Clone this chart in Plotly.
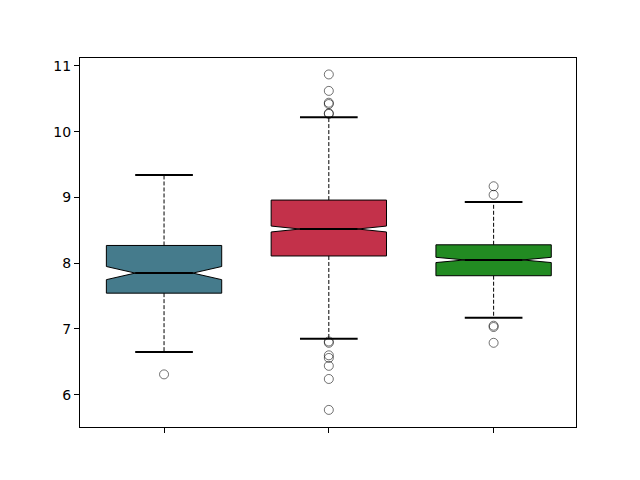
import plotly.graph_objects as go

# values
positions = [1, 2, 3]
q1 = [7.545, 8.11, 7.81]
median = [7.85, 8.52, 8.05]
q3 = [8.27, 8.96, 8.28]
lower_whisker = [6.65, 6.85, 7.17]
upper_whisker = [9.34, 10.22, 8.93]
notch_half = [0.10, 0.045, 0.04]
outliers = [
    [6.31],
    [10.87, 10.62, 10.44, 10.42, 10.28, 10.27, 6.81, 6.79, 6.60, 6.56, 6.44, 6.24, 5.77],
    [9.17, 9.04, 7.05, 7.03, 6.79],
]
colors = ['#457b8c', '#c3314a', '#228b22']

box_w = 0.7
cap_half = box_w / 4

fig = go.Figure()

for i, p in enumerate(positions):
    # box + notch
    fig.add_trace(go.Box(
        x=[p], q1=[q1[i]], median=[median[i]], q3=[q3[i]],
        lowerfence=[q1[i]], upperfence=[q3[i]],
        notched=True, notchspan=[notch_half[i]], notchwidth=0.25,
        width=box_w, whiskerwidth=0,
        fillcolor=colors[i], line=dict(color='black', width=1),
        boxpoints=False, hoverinfo='skip', showlegend=False))

    # thicker median across the notch
    fig.add_trace(go.Scatter(x=[p - cap_half, p + cap_half], y=[median[i], median[i]],
                             mode='lines', line=dict(color='black', width=2),
                             showlegend=False, hoverinfo='skip'))

    # dashed whiskers
    for a, b in [(q3[i], upper_whisker[i]), (q1[i], lower_whisker[i])]:
        fig.add_trace(go.Scatter(x=[p, p], y=[a, b], mode='lines',
                                 line=dict(color='black', width=1, dash='4px,2px'),
                                 showlegend=False, hoverinfo='skip'))

    # caps
    for v in [upper_whisker[i], lower_whisker[i]]:
        fig.add_trace(go.Scatter(x=[p - cap_half, p + cap_half], y=[v, v], mode='lines',
                                 line=dict(color='black', width=2),
                                 showlegend=False, hoverinfo='skip'))

    # fliers
    fig.add_trace(go.Scatter(x=[p] * len(outliers[i]), y=outliers[i], mode='markers',
                             marker=dict(symbol='circle-open', size=9,
                                         color='rgba(0,0,0,0.55)', line=dict(width=1)),
                             showlegend=False))

fig.update_layout(
    width=640, height=480,
    margin=dict(l=72, r=72, t=50, b=61),
    plot_bgcolor='white', paper_bgcolor='white',
    font=dict(family='DejaVu Sans', size=14, color='black'),
    showlegend=False,
)
fig.update_xaxes(range=[0.49, 3.5], tickvals=positions, ticktext=['', '', ''],
                 ticks='outside', ticklen=5, tickcolor='black',
                 showgrid=False, zeroline=False, showline=True, linecolor='black',
                 linewidth=1, mirror=True)
fig.update_yaxes(range=[5.51, 11.12], tickvals=[6, 7, 8, 9, 10, 11],
                 ticks='outside', ticklen=5, tickcolor='black',
                 showgrid=False, zeroline=False, showline=True, linecolor='black',
                 linewidth=1, mirror=True)

fig.write_html("out.html")
